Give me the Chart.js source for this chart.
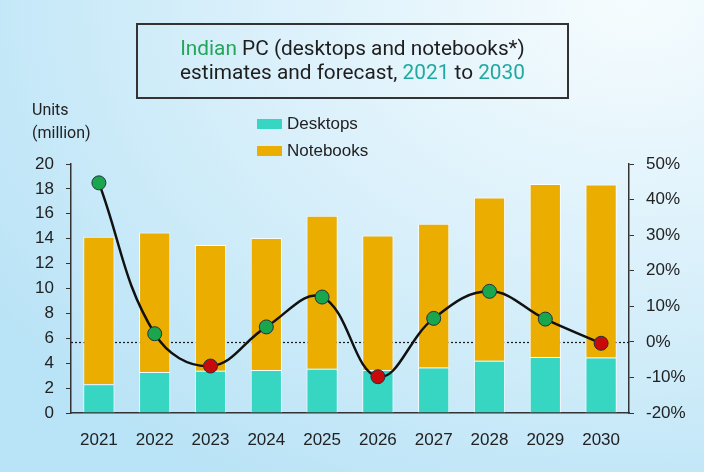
<!DOCTYPE html>
<html>
<head>
<meta charset="utf-8">
<script src="https://cdn.jsdelivr.net/npm/chart.js@4.4.1/dist/chart.umd.min.js"></script>
<style>
  html, body { margin: 0; padding: 0; }
  body {
    width: 704px; height: 472px; overflow: hidden; position: relative;
    background: radial-gradient(ellipse 110% 120% at 90% 0%, #f6fcfe 0%, #dcf1fb 45%, #b9e3f6 100%);
    font-family: "Liberation Sans", Arial, sans-serif;
  }
  #wrap { position: absolute; left: 0; top: 0; width: 704px; height: 472px; }
  .title-box {
    position: absolute; left: 136px; top: 23px; width: 429px; height: 72px;
    border: 2px solid #333; box-sizing: content-box;
    font-family: Roboto, "Noto Sans", sans-serif; font-size: 20.8px; line-height: 24px;
    color: #1e1e1e; text-align: center;
  }
  .title-box .l1 { margin-top: 11px; }
  .green { color: #23a55a; }
  .teal { color: #1fa9a0; }
  .units {
    position: absolute; left: 32px; top: 98px; font-size: 16px; line-height: 23px; color: #222;
    font-family: Roboto, "Liberation Sans", sans-serif;
  }
  #legend { position: absolute; left: 257px; top: 110px; }
  .leg-item { display: flex; align-items: center; height: 27px; font-size: 17px; color: #222; }
  .leg-box { width: 25px; height: 10px; margin-right: 5px; }
</style>
</head>
<body>
<div id="wrap"><canvas id="chart" width="704" height="472"></canvas></div>
<div class="title-box">
  <div class="l1"><span class="green">Indian</span> PC (desktops and notebooks*)</div>
  <div>estimates and forecast, <span class="teal">2021</span> to <span class="teal">2030</span></div>
</div>
<div class="units">Units<br>(million)</div>
<div id="legend"></div>
<script>
// values
const years = ['2021', '2022', '2023', '2024', '2025', '2026', '2027', '2028', '2029', '2030'];
const desktops = [2.3, 3.3, 3.4, 3.45, 3.55, 3.45, 3.65, 4.2, 4.5, 4.45];
const notebooks = [11.85, 11.2, 10.1, 10.6, 12.3, 10.8, 11.55, 13.1, 13.9, 13.9];
const growth = [44.7, 2.3, -6.8, 4.2, 12.6, -9.8, 6.6, 14.2, 6.4, -0.4]; // % change y/y

const axisColor = '#333';
const tickFont = { family: '"Liberation Sans", Arial, sans-serif', size: 17 };

// dotted line at 0% across the plot
const zeroLine = {
  id: 'zeroLine',
  beforeDatasetsDraw(chart) {
    const { ctx, chartArea } = chart;
    const y = Math.round(chart.scales.y1.getPixelForValue(0)) + 0.5;
    ctx.save();
    ctx.strokeStyle = '#1a1a1a';
    ctx.lineWidth = 1.2;
    ctx.setLineDash([2, 2]);
    ctx.beginPath();
    ctx.moveTo(chartArea.left, y);
    ctx.lineTo(chartArea.right, y);
    ctx.stroke();
    ctx.restore();
  }
};

const ctx = document.getElementById('chart').getContext('2d');
const chart = new Chart(ctx, {
  type: 'bar',
  data: {
    labels: years,
    datasets: [
      {
        type: 'line',
        label: 'Growth',
        data: growth,
        yAxisID: 'y1',
        borderColor: '#111',
        borderWidth: 2.5,
        tension: 0.4,
        pointRadius: 7,
        pointBorderWidth: 1,
        pointBorderColor: '#234',
        pointBackgroundColor: growth.map(v => v >= 0 ? '#1aa64c' : '#c80a0a'),
        order: 0
      },
      {
        label: 'Desktops',
        data: desktops,
        backgroundColor: '#36d6c3',
        borderColor: 'rgba(255,255,255,0.85)',
        borderWidth: 1,
        stack: 'pc',
        order: 1
      },
      {
        label: 'Notebooks',
        data: notebooks,
        backgroundColor: '#ebad00',
        borderColor: 'rgba(255,255,255,0.85)',
        borderWidth: 1,
        stack: 'pc',
        order: 1
      }
    ]
  },
  options: {
    responsive: false,
    animation: false,
    layout: { padding: { top: 164, left: 0, right: 0, bottom: 0 } },
    datasets: { bar: { categoryPercentage: 1, barPercentage: 0.56 } },
    plugins: {
      legend: { display: false },
      tooltip: { enabled: false }
    },
    scales: {
      x: {
        stacked: true,
        grid: { display: false },
        border: { display: true, color: axisColor, width: 1.5 },
        ticks: { color: '#222', font: tickFont, padding: 9, maxRotation: 0 },
        afterFit(s) { s.height = 59; }
      },
      y: {
        stacked: true,
        min: 0, max: 20,
        ticks: { stepSize: 2, color: '#222', font: tickFont, padding: 12 },
        grid: { drawOnChartArea: false, drawTicks: true, tickLength: 5, color: axisColor },
        border: { display: true, color: axisColor, width: 1.5 },
        afterFit(s) { s.width = 71; }
      },
      y1: {
        position: 'right',
        min: -20, max: 50,
        ticks: { stepSize: 10, color: '#222', font: tickFont, padding: 12, callback: v => v + '%' },
        grid: { drawOnChartArea: false, drawTicks: true, tickLength: 5, color: axisColor },
        border: { display: true, color: axisColor, width: 1.5 },
        afterFit(s) { s.width = 75; }
      }
    }
  },
  plugins: [zeroLine]
});

// legend built from the bar datasets
const legend = document.getElementById('legend');
chart.data.datasets.filter(d => d.type !== 'line').forEach(d => {
  const item = document.createElement('div');
  item.className = 'leg-item';
  item.innerHTML = '<span class="leg-box" style="background:' + d.backgroundColor + '"></span>' + d.label;
  legend.appendChild(item);
});
</script>
</body>
</html>
